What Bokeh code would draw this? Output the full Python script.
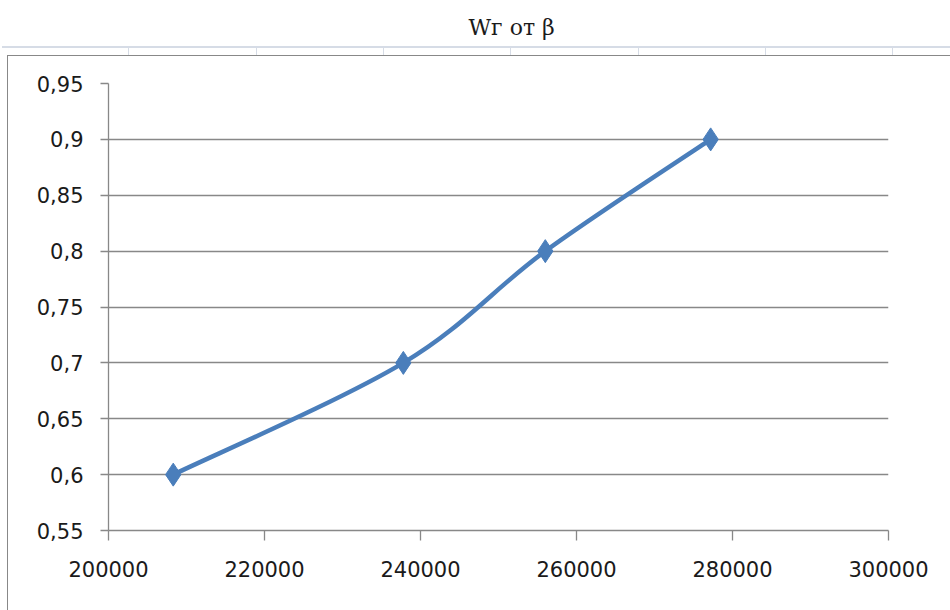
import numpy as np
from bokeh.plotting import figure
from bokeh.models import FixedTicker, Range1d, Title
from bokeh.embed import file_html
from bokeh.resources import INLINE

# ---- data ----
title_text = "Wг от β"
beta = [208300, 237800, 256000, 277200]
w_g = [0.60, 0.70, 0.80, 0.90]
x_ticks = [200000, 220000, 240000, 260000, 280000, 300000]
y_ticks = [0.55, 0.60, 0.65, 0.70, 0.75, 0.80, 0.85, 0.90, 0.95]
y_tick_labels = ["0,55", "0,6", "0,65", "0,7", "0,75", "0,8", "0,85", "0,9", "0,95"]

LINE = "#4a7ebb"
GRID = "#888888"
FONT = "DejaVu Sans"

# chart-area border and spreadsheet cell band peeking above it (pure decoration)
css = """
:host { position: relative; }
:host::after {
  content: ""; position: absolute; left: 7px; top: 55px; width: 943px; height: 555px;
  box-sizing: border-box; border-left: 1.5px solid #888888; border-top: 1.5px solid #888888;
  pointer-events: none; z-index: 10;
}
:host::before {
  content: ""; position: absolute; left: 2px; top: 46px; width: 948px; height: 9px;
  box-sizing: border-box; border-top: 2px solid #d6dce6;
  background-image: repeating-linear-gradient(90deg, transparent 0px, transparent 126.3px,
                    #d6dce6 126.3px, #d6dce6 127.3px);
  pointer-events: none; z-index: 10;
}
"""

p = figure(width=950, height=610, output_backend="svg", toolbar_location=None,
           x_range=Range1d(200000, 300000), y_range=Range1d(0.55, 0.95),
           min_border_left=108, min_border_right=62, min_border_top=83, min_border_bottom=80,
           title=None, stylesheets=[css])
p.outline_line_color = None
p.background_fill_color = "white"
p.border_fill_color = "white"

# spacer (nearest the frame) then the real title above it
p.add_layout(Title(text=" ", text_font_size="10px", standoff=29), "above")
p.add_layout(Title(text=title_text, text_font="DejaVu Serif", text_font_size="22px",
                   text_font_style="normal", text_color="#1a1a1a", align="left",
                   offset=360, vertical_align="top", standoff=0), "above")

# axes
p.xaxis.ticker = FixedTicker(ticks=x_ticks)
p.yaxis.ticker = FixedTicker(ticks=y_ticks)
p.yaxis.major_label_overrides = {t: l for t, l in zip(y_ticks, y_tick_labels)}
p.xaxis.formatter.use_scientific = False
for ax in (p.xaxis, p.yaxis):
    ax.axis_line_color = GRID
    ax.axis_line_width = 1.3
    ax.major_tick_line_color = GRID
    ax.major_tick_line_width = 1.3
    ax.major_tick_in = 0
    ax.minor_tick_line_color = None
    ax.major_label_text_font = FONT
    ax.major_label_text_font_size = "21px"
    ax.major_label_text_color = "#1a1a1a"
p.xaxis.major_tick_out = 10
p.yaxis.major_tick_out = 8
p.xaxis.major_label_standoff = 20
p.yaxis.major_label_standoff = 17

p.xgrid.grid_line_color = None
p.ygrid.grid_line_color = GRID
p.ygrid.grid_line_width = 1.3

# smoothed line (Bezier segments derived from the data points)
xs = np.array(beta, float)
ys = np.array(w_g, float)
n = len(xs)
x0, y0, x1, y1, cx0, cy0, cx1, cy1 = ([] for _ in range(8))
for i in range(n - 1):
    xm, ym = (xs[i - 1], ys[i - 1]) if i > 0 else (xs[i], ys[i])
    xn, yn = (xs[i + 2], ys[i + 2]) if i + 2 < n else (xs[i + 1], ys[i + 1])
    x0.append(xs[i]); y0.append(ys[i]); x1.append(xs[i + 1]); y1.append(ys[i + 1])
    cx0.append(xs[i] + (xs[i + 1] - xm) / 6); cy0.append(ys[i] + (ys[i + 1] - ym) / 6)
    cx1.append(xs[i + 1] - (xn - xs[i]) / 6); cy1.append(ys[i + 1] - (yn - ys[i]) / 6)
p.bezier(x0=x0, y0=y0, x1=x1, y1=y1, cx0=cx0, cy0=cy0, cx1=cx1, cy1=cy1,
         line_color=LINE, line_width=4.5, line_cap="round")
p.scatter(beta, w_g, marker="diamond", size=23, color=LINE)

open("out.html", "w").write(file_html(p, INLINE))
